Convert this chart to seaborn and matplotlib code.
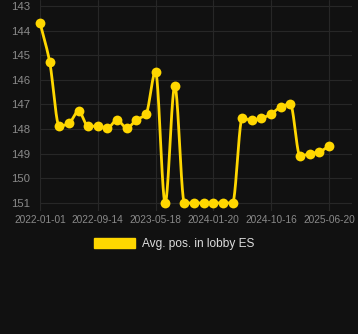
import numpy as np
import pandas as pd
import matplotlib
matplotlib.use("Agg")
import matplotlib.pyplot as plt
from matplotlib.patches import Patch
import seaborn as sns

# ---- data ----
positions = [143.68, 145.26, 147.88, 147.77, 147.27, 147.88, 147.88, 147.96,
             147.63, 147.96, 147.63, 147.40, 145.67, 151.0, 146.25, 151.0,
             151.0, 151.0, 151.0, 151.0, 151.0, 147.56, 147.64, 147.56,
             147.39, 147.10, 146.99, 149.09, 149.00, 148.93, 148.68]
tick_labels = ["2022-01-01", "2022-09-14", "2023-05-18", "2024-01-20",
               "2024-10-16", "2025-06-20"]
series_name = "Avg. pos. in lobby ES"

idx = np.arange(len(positions), dtype=float)
y = np.array(positions, dtype=float)
df = pd.DataFrame({"idx": idx, "pos": y})


def monotone_cubic(x, yv, xs):
    n = len(x)
    h = np.diff(x)
    d = np.diff(yv) / h
    m = np.zeros(n)
    m[0] = d[0]
    m[-1] = d[-1]
    for k in range(1, n - 1):
        if d[k - 1] * d[k] <= 0:
            m[k] = 0.0
        else:
            w1 = 2 * h[k] + h[k - 1]
            w2 = h[k] + 2 * h[k - 1]
            m[k] = (w1 + w2) / (w1 / d[k - 1] + w2 / d[k])
    out = np.empty_like(xs)
    seg = np.clip(np.searchsorted(x, xs) - 1, 0, n - 2)
    for i, xv in enumerate(xs):
        k = seg[i]
        t = (xv - x[k]) / h[k]
        h00 = 2 * t**3 - 3 * t**2 + 1
        h10 = t**3 - 2 * t**2 + t
        h01 = -2 * t**3 + 3 * t**2
        h11 = t**3 - t**2
        out[i] = h00 * yv[k] + h10 * h[k] * m[k] + h01 * yv[k + 1] + h11 * h[k] * m[k + 1]
    return out


xs = np.linspace(idx[0], idx[-1], 1200)
smooth = pd.DataFrame({"idx": xs, "pos": monotone_cubic(idx, y, xs)})

# ---- style ----
bg = "#111111"
grid_c = "#272727"
txt_c = "#8a8a8a"
gold = "#FFD700"

sns.set_theme(style="dark")
plt.rcParams["font.family"] = ["Liberation Sans", "DejaVu Sans"]

fig = plt.figure(figsize=(3.58, 3.34), dpi=100, facecolor=bg)
ax = fig.add_axes([0.1117, 0.368, 0.8715, 0.632])
ax.set_facecolor(bg)

sns.lineplot(data=smooth, x="idx", y="pos", ax=ax, color=gold, linewidth=2.0,
             legend=False)
sns.scatterplot(data=df, x="idx", y="pos", ax=ax, color=gold, s=50,
                edgecolor=gold, linewidth=0, zorder=5, legend=False)
for art in ax.lines + ax.collections:
    art.set_clip_on(False)

ax.set_ylim(151.33, 142.76)
ax.set_xlim(0, 32.4)
ax.set_yticks(np.arange(143, 152, 1))
ax.set_yticklabels([str(v) for v in range(143, 152)])
ax.set_xticks(np.arange(0, len(positions), 6))
ax.set_xticklabels(tick_labels)
ax.set_xlabel("")
ax.set_ylabel("")

ax.grid(True, color=grid_c, linewidth=0.8)
for s in ax.spines.values():
    s.set_visible(False)
ax.tick_params(axis="x", colors=txt_c, labelsize=7.3, length=0, pad=3,
               bottom=False)
ax.tick_params(axis="y", colors=txt_c, labelsize=8.2, length=0, pad=7, left=False)

handle = Patch(facecolor=gold, edgecolor=gold)
fig.legend([handle], [series_name], loc="center", bbox_to_anchor=(0.486, 0.27),
           frameon=False, fontsize=8.6, labelcolor="#dddddd",
           handlelength=3.4, handleheight=0.95, handletextpad=0.6)

fig.savefig("out.png", dpi=100, facecolor=bg)
